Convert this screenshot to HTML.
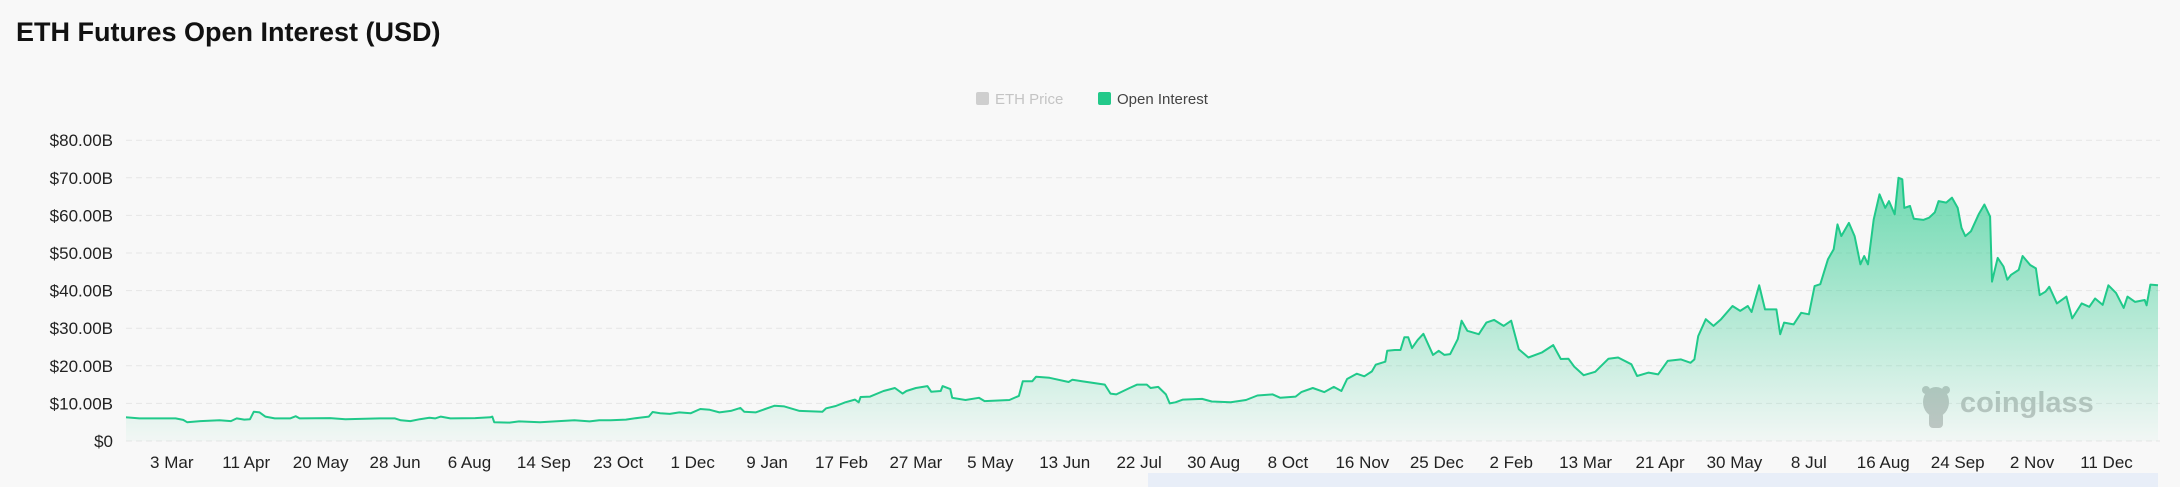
<!DOCTYPE html>
<html><head><meta charset="utf-8"><style>
html,body{margin:0;padding:0;background:#f8f8f8;}
body{width:2180px;height:487px;overflow:hidden;position:relative;font-family:"Liberation Sans",sans-serif;}
</style></head><body>
<svg id="chart" width="2180" height="487" xmlns="http://www.w3.org/2000/svg" style="position:absolute;left:0;top:0">
<defs>
<linearGradient id="fillg" x1="0" y1="0" x2="0" y2="1" gradientUnits="userSpaceOnUse" gradientTransform="translate(0,178) scale(1,263)">
<stop offset="0" stop-color="#23c98a" stop-opacity="0.65"/>
<stop offset="1" stop-color="#23c98a" stop-opacity="0.03"/>
</linearGradient>
</defs>
<text x="16" y="41" font-size="27" font-weight="bold" fill="#111">ETH Futures Open Interest (USD)</text>
<g>
<g><rect x="976" y="92" width="13" height="13" rx="2" fill="#cfcfcf"/><text x="995" y="104" font-size="15" fill="#c4c4c4">ETH Price</text></g>
<g><rect x="1098" y="92" width="13" height="13" rx="2" fill="#23c98a"/><text x="1117" y="104" font-size="15" fill="#444">Open Interest</text></g>
</g>
<g id="grid"></g>
<g id="yaxis"></g>
<g id="xaxis"></g>
<g fill="#c6c6c6">
<ellipse cx="1936" cy="402" rx="13" ry="15"/>
<rect x="1929" y="412" width="14" height="16" rx="4"/>
<circle cx="1926" cy="390" r="4"/><circle cx="1946" cy="390" r="4"/>
<text x="1960" y="412" font-size="29" font-weight="bold" fill="#c4c4c4">coinglass</text>
</g>
<path id="area" fill="url(#fillg)" stroke="none"/>
<path id="line" fill="none" stroke="#20c98a" stroke-width="2" stroke-linejoin="round"/>
<rect x="1148" y="473" width="1010" height="14" fill="#e8eef8"/>
</svg>
<script>
const yTicks = [0,10,20,30,40,50,60,70,80];
const yTickLabels = ["$0","$10.00B","$20.00B","$30.00B","$40.00B","$50.00B","$60.00B","$70.00B","$80.00B"];
const xTickLabels = ["3 Mar","11 Apr","20 May","28 Jun","6 Aug","14 Sep","23 Oct","1 Dec","9 Jan","17 Feb","27 Mar","5 May","13 Jun","22 Jul","30 Aug","8 Oct","16 Nov","25 Dec","2 Feb","13 Mar","21 Apr","30 May","8 Jul","16 Aug","24 Sep","2 Nov","11 Dec"];
const xTickDays = [24,63,102,141,180,219,258,297,336,375,414,453,492,531,570,609,648,687,726,765,804,843,882,921,960,999,1038];
const days = [0,7,18,26,30,32,39,49,55,58,62,65,67,70,73,78,86,89,91,107,115,133,141,144,149,154,159,162,165,170,183,191,192,193,201,206,217,227,235,243,248,254,262,269,274,276,280,285,290,296,301,306,311,317,322,324,330,335,340,345,353,365,367,372,377,382,384,385,390,397,403,407,409,414,420,422,427,428,432,433,440,447,450,463,468,470,475,477,484,494,496,501,513,516,519,526,530,535,537,541,545,547,550,554,564,569,579,587,593,601,605,613,616,622,628,633,637,640,645,649,653,655,660,661,665,668,670,672,674,677,680,685,688,691,694,698,700,703,709,713,717,722,726,730,735,742,748,752,756,759,764,770,777,782,789,792,798,803,808,815,820,822,824,828,832,836,842,846,850,852,856,859,865,867,869,874,878,882,885,888,892,895,897,899,903,906,909,911,913,916,919,922,924,927,929,931,932,935,937,942,945,948,950,954,957,960,962,964,967,971,974,977,978,981,984,986,988,992,994,998,1001,1003,1006,1008,1012,1017,1020,1025,1029,1032,1036,1039,1043,1047,1049,1053,1058,1059,1061,1065];
const oi = [6.3,6.0,6.0,6.0,5.6,5.0,5.3,5.5,5.3,6.0,5.7,5.8,7.8,7.6,6.5,6.0,6.0,6.6,6.0,6.1,5.8,6.0,6.0,5.5,5.3,5.8,6.2,6.0,6.5,6.0,6.1,6.3,6.5,5.0,4.9,5.2,5.0,5.3,5.5,5.2,5.5,5.5,5.7,6.2,6.5,7.7,7.4,7.2,7.6,7.4,8.5,8.3,7.6,8.0,8.8,7.8,7.6,8.5,9.4,9.2,8.0,7.8,8.7,9.3,10.3,11.0,10.3,11.7,11.8,13.3,14.1,12.6,13.3,14.1,14.6,13.1,13.3,14.6,13.8,11.5,10.9,11.5,10.6,10.9,12.0,15.9,15.9,17.1,16.8,15.7,16.3,15.9,15.0,12.6,12.4,14.1,15.0,15.0,14.1,14.4,12.4,10.0,10.3,11.0,11.2,10.5,10.3,10.9,12.1,12.4,11.5,11.8,13.0,14.1,13.0,14.4,13.3,16.5,17.9,17.2,18.5,20.3,21.1,24.0,24.2,24.2,27.6,27.6,24.7,26.9,28.5,22.9,24.0,22.9,23.1,27.1,32.0,29.3,28.4,31.5,32.2,30.6,32.0,24.4,22.2,23.5,25.5,21.8,21.9,19.8,17.5,18.4,21.9,22.2,20.4,17.3,18.2,17.7,21.3,21.7,20.8,21.7,27.9,32.4,30.6,32.4,35.9,34.6,35.9,34.3,41.4,35.0,35.0,28.4,31.5,31.0,34.1,33.7,41.2,41.7,48.3,51.0,57.6,54.5,58.0,54.5,47.0,49.2,47.0,58.9,65.6,62.0,63.8,60.3,70.0,69.6,62.0,62.5,59.1,58.8,59.4,60.8,63.8,63.4,64.7,62.0,56.7,54.5,55.8,60.3,62.9,59.7,42.4,48.7,46.4,42.9,44.2,45.5,49.2,46.8,45.9,38.8,39.7,41.0,36.6,38.4,32.6,36.6,35.7,37.9,36.2,41.4,39.4,35.4,38.4,37.0,37.5,36.1,41.6,41.4];

const X0 = 126, PXDAY = 1.908, Y0 = 441, PXB = 3.76, XR = 2160;
function xs(d){ return X0 + d*PXDAY; }
function ys(v){ return Y0 - v*PXB; }
const NS = "http://www.w3.org/2000/svg";
const grid = document.getElementById('grid'), yax = document.getElementById('yaxis'), xax = document.getElementById('xaxis');
yTicks.forEach((t,i)=>{
  const l = document.createElementNS(NS,'line');
  
  
  l.setAttribute('x1',X0); l.setAttribute('x2',XR);
  l.setAttribute('y1',ys(t)); l.setAttribute('y2',ys(t));
  l.setAttribute('stroke','#e6e6e6'); l.setAttribute('stroke-dasharray','6,4'); l.setAttribute('stroke-width','1');
  grid.appendChild(l);
  const tx = document.createElementNS(NS,'text');
  
  
  tx.setAttribute('x',113); tx.setAttribute('y',ys(t)+6);
  tx.setAttribute('text-anchor','end'); tx.setAttribute('font-size','17'); tx.setAttribute('fill','#222');
  tx.textContent = yTickLabels[i];
  yax.appendChild(tx);
});
xTickLabels.forEach((lab,i)=>{
  const tx = document.createElementNS(NS,'text');
  
  
  tx.setAttribute('x',xs(xTickDays[i])); tx.setAttribute('y',468);
  tx.setAttribute('text-anchor','middle'); tx.setAttribute('font-size','17'); tx.setAttribute('fill','#222');
  tx.textContent = lab;
  xax.appendChild(tx);
});
let d = '';
days.forEach((dd,i)=>{ d += (i? 'L':'M') + xs(dd).toFixed(1) + ',' + ys(oi[i]).toFixed(1); });
document.getElementById('line').setAttribute('d', d);
document.getElementById('area').setAttribute('d', d + 'L' + xs(days[days.length-1]).toFixed(1) + ',' + Y0 + 'L' + xs(days[0]).toFixed(1) + ',' + Y0 + 'Z');
</script>
</body></html>
